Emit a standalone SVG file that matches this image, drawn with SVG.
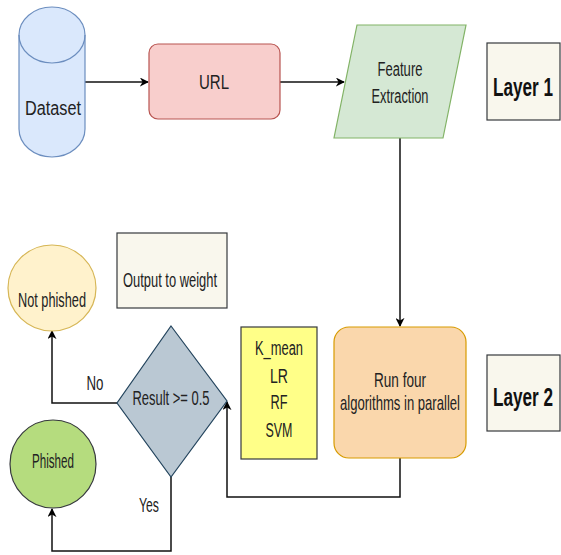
<svg xmlns="http://www.w3.org/2000/svg" width="561" height="555" viewBox="0 0 561 555">
  <defs>
    <marker id="arrow" viewBox="0 0 10 10" refX="9" refY="5" markerWidth="9" markerHeight="9" orient="auto" markerUnits="userSpaceOnUse">
      <path d="M0,0 L10,5 L0,10 L3,5 Z" fill="#000"/>
    </marker>
    <style>
      text { font-family: "Liberation Sans", Arial, sans-serif; fill: #222; text-anchor: middle; }
      .lbl { font-size: 20px; }
      .layer { font-size: 25px; font-weight: bold; fill: #111; }
      .edge { fill: none; stroke: #111; stroke-width: 1.5; marker-end: url(#arrow); }
      .note { fill: #f9f7ed; stroke: #36393d; stroke-width: 1.2; }
    </style>
  </defs>
  <rect width="561" height="555" fill="#fff"/>

  <!-- connectors -->
  <g id="connectors">
    <path class="edge" d="M85,82 L148,82"/>
    <path class="edge" d="M280,82 L344,82"/>
    <path class="edge" d="M400,138 L400,326"/>
    <path class="edge" d="M400,458 L400,497 L227,497 L227,402"/>
    <path class="edge" d="M117,403 L52,403 L52,331"/>
    <path class="edge" d="M171,477 L171,551 L52,551 L52,509"/>
  </g>

  <!-- Layer 1 -->
  <g id="dataset">
    <path d="M19,35 A33,28 0 0 1 85,35 L85,129 A33,28 0 0 1 19,129 Z" fill="#dae8fc" stroke="#6c8ebf" stroke-width="1.2"/>
    <path d="M19,35 A33,28 0 0 0 85,35" fill="none" stroke="#6c8ebf" stroke-width="1.2"/>
    <text class="lbl" x="53" y="115" font-size="24" textLength="56" lengthAdjust="spacingAndGlyphs">Dataset</text>
  </g>
  <g id="url">
    <rect x="149" y="44" width="131" height="75" rx="9" fill="#f8cecc" stroke="#b85450" stroke-width="1.2"/>
    <text class="lbl" x="214" y="89" font-size="18" textLength="30" lengthAdjust="spacingAndGlyphs">URL</text>
  </g>
  <g id="feature-extraction">
    <polygon points="357,25 466,25 443,138 334,138" fill="#d5e8d4" stroke="#82b366" stroke-width="1.2"/>
    <text class="lbl" x="400" y="76" font-size="20" textLength="45" lengthAdjust="spacingAndGlyphs">Feature</text>
    <text class="lbl" x="400" y="103" font-size="20" textLength="57" lengthAdjust="spacingAndGlyphs">Extraction</text>
  </g>
  <g id="layer-1">
    <rect class="note" x="487" y="43" width="73" height="77"/>
    <text class="layer" transform="translate(523,96) scale(0.686,1)">Layer 1</text>
  </g>

  <!-- Layer 2 -->
  <g id="output-to-weight">
    <rect class="note" x="117" y="233" width="110" height="75"/>
    <text class="lbl" x="170" y="287" font-size="20" textLength="94" lengthAdjust="spacingAndGlyphs">Output to weight</text>
  </g>
  <g id="not-phished">
    <ellipse cx="52" cy="288" rx="44" ry="43" fill="#fff2cc" stroke="#d6b656" stroke-width="1.2"/>
    <text class="lbl" x="52" y="307" font-size="20" textLength="68" lengthAdjust="spacingAndGlyphs">Not phished</text>
  </g>
  <g id="decision">
    <polygon points="171,326 227,401 171,477 117,403" fill="#bac8d3" stroke="#23445d" stroke-width="1.2"/>
    <text class="lbl" x="171" y="405" font-size="20" textLength="77" lengthAdjust="spacingAndGlyphs">Result &gt;= 0.5</text>
  </g>
  <g id="phished">
    <ellipse cx="53" cy="464" rx="43" ry="44" fill="#b5dc7e" stroke="#36393d" stroke-width="1.2"/>
    <text class="lbl" x="53" y="468" font-size="20" textLength="42" lengthAdjust="spacingAndGlyphs">Phished</text>
  </g>
  <g id="algorithms">
    <rect x="241" y="327" width="76" height="132" fill="#ffff88" stroke="#36393d" stroke-width="1.2"/>
    <text class="lbl" x="279" y="355" font-size="21" textLength="48" lengthAdjust="spacingAndGlyphs">K_mean</text>
    <text class="lbl" x="279" y="383" font-size="21" textLength="18" lengthAdjust="spacingAndGlyphs">LR</text>
    <text class="lbl" x="279" y="409" font-size="21" textLength="17" lengthAdjust="spacingAndGlyphs">RF</text>
    <text class="lbl" x="279" y="437" font-size="21" textLength="27" lengthAdjust="spacingAndGlyphs">SVM</text>
  </g>
  <g id="run-parallel">
    <rect x="334" y="327" width="132" height="131" rx="15" fill="#fad7ac" stroke="#d79b00" stroke-width="1.2"/>
    <text class="lbl" x="400" y="387" font-size="20" textLength="52" lengthAdjust="spacingAndGlyphs">Run four</text>
    <text class="lbl" transform="translate(400,410) scale(0.655,1)">algorithms in parallel</text>
  </g>
  <g id="layer-2">
    <rect class="note" x="487" y="355" width="73" height="76"/>
    <text class="layer" transform="translate(523,406) scale(0.686,1)">Layer 2</text>
  </g>

  <!-- edge labels -->
  <g id="edge-labels">
    <text class="lbl" x="95" y="390" font-size="19" textLength="17" lengthAdjust="spacingAndGlyphs">No</text>
    <text class="lbl" x="149" y="512" font-size="19" textLength="20" lengthAdjust="spacingAndGlyphs">Yes</text>
  </g>
</svg>
